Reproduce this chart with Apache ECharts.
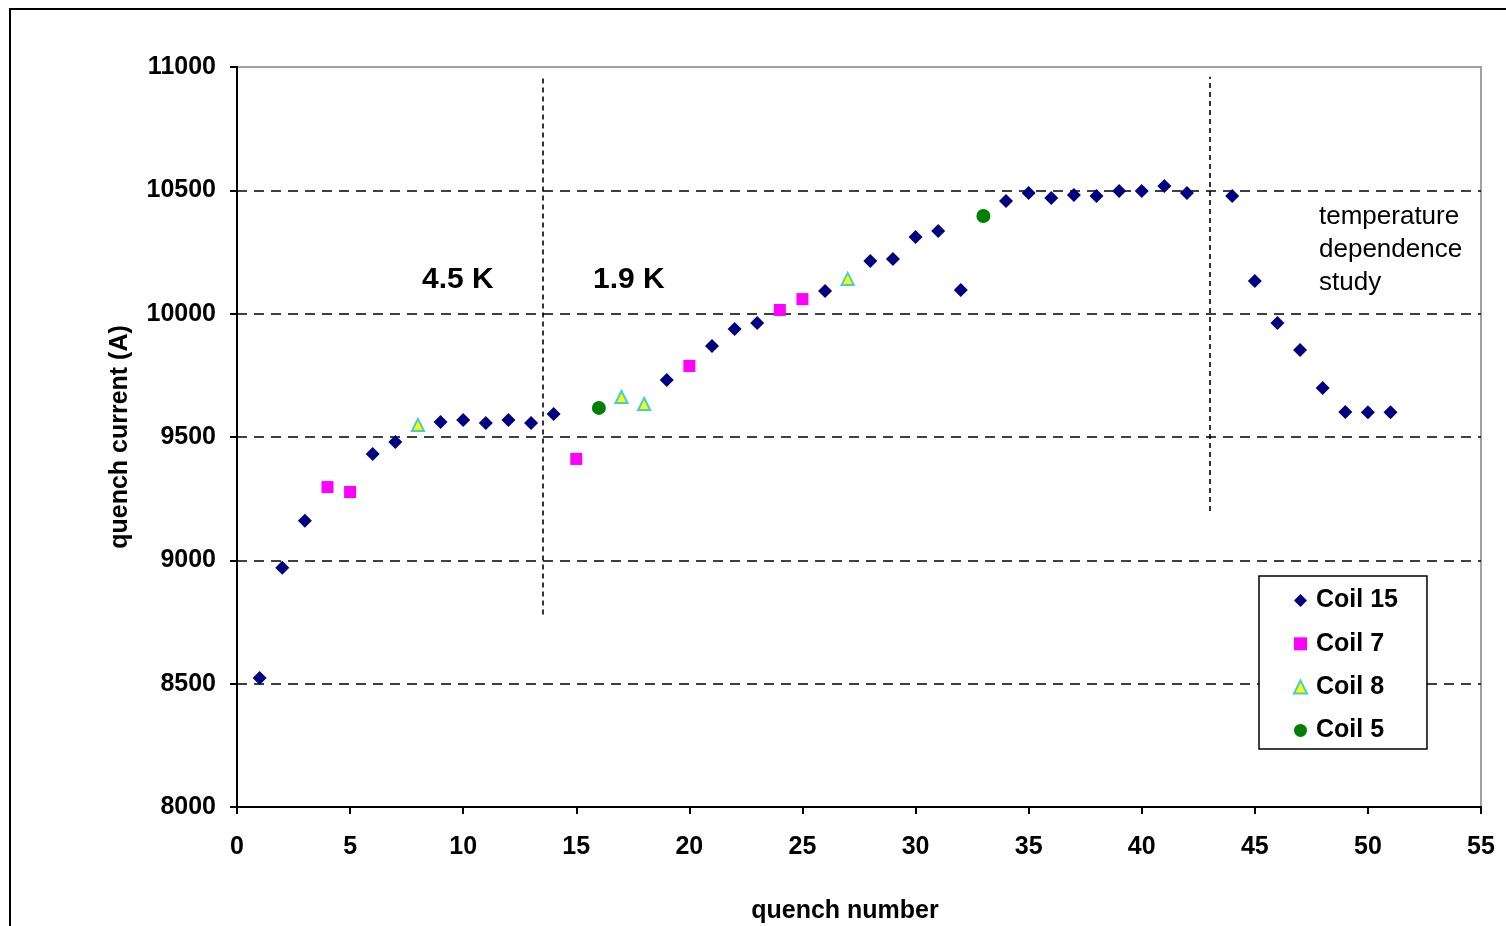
<!DOCTYPE html>
<html>
<head>
<meta charset="utf-8">
<script src="https://cdn.jsdelivr.net/npm/echarts@6/dist/echarts.min.js"></script>
<style>html,body{margin:0;padding:0;background:#fff;}#c{width:1506px;height:926px;}</style>
</head>
<body>
<div id="c"></div>
<script>
// ---- data ----
const coil15X = [1,2,3,6,7,9,10,11,12,13,14,19,21,22,23,26,28,29,30,31,32,34,35,36,37,38,39,40,41,42,44,45,46,47,48,49,50,51];
const coil15Y = [8523,8970,9160,9431,9480,9561,9569,9557,9569,9557,9593,9731,9869,9938,9962,10092,10214,10222,10311,10335,10096,10457,10489,10469,10481,10477,10497,10497,10518,10489,10477,10132,9962,9853,9699,9601,9600,9600];
const coil7X = [4,5,15,20,24,25];
const coil7Y = [9297,9277,9411,9788,10015,10059];
const coil8X = [8,17,18,27];
const coil8Y = [9549,9662,9634,10141];
const coil5X = [16,33];
const coil5Y = [9618,10396];
const seriesNames = ['Coil 15','Coil 7','Coil 8','Coil 5'];
const xTicks = {min:0, max:55, interval:5};
const yTicks = {min:8000, max:11000, interval:500};
// vertical dashed separators: [x, yBottom, yTop]
const separators = [[13.5, 8780, 10960],[43, 9200, 10960]];
const regionLabels = ['4.5 K','1.9 K'];
const noteLines = ['temperature','dependence','study'];

function pairs(xs, ys){ return xs.map((x,i)=>[x, ys[i]]); }

const FONT = '"Liberation Sans", Arial, sans-serif';
const chart = echarts.init(document.getElementById('c'), null, {renderer:'canvas'});
const gridColors = ['rgba(0,0,0,0)','#000','#000','#000','#000','#000','rgba(0,0,0,0)'];

chart.setOption({
  backgroundColor:'#fff',
  animation:false,
  grid:{left:237, right:25, top:67, bottom:119, outerBoundsMode:'none', containLabel:false,
        show:true, borderColor:'#a0a0a0', borderWidth:2, backgroundColor:'#fff'},
  xAxis:{
    type:'value', min:xTicks.min, max:xTicks.max, interval:xTicks.interval,
    name:'quench number', nameLocation:'middle', nameGap:92,
    nameTextStyle:{fontFamily:FONT, fontWeight:'bold', fontSize:25, color:'#000', padding:[0,28,0,0]},
    axisLine:{show:true, onZero:false, lineStyle:{color:'#000', width:2}},
    axisTick:{show:true, inside:false, length:7, lineStyle:{color:'#000', width:2}},
    axisLabel:{fontFamily:FONT, fontWeight:'bold', fontSize:25, color:'#000', margin:28},
    splitLine:{show:false}
  },
  yAxis:{
    type:'value', min:yTicks.min, max:yTicks.max, interval:yTicks.interval,
    name:'quench current (A)', nameLocation:'middle', nameGap:104,
    nameTextStyle:{fontFamily:FONT, fontWeight:'bold', fontSize:25, color:'#000'},
    axisLine:{show:true, onZero:false, lineStyle:{color:'#000', width:2}},
    axisTick:{show:true, inside:false, length:7, lineStyle:{color:'#000', width:2}},
    axisLabel:{fontFamily:FONT, fontWeight:'bold', fontSize:25, color:'#000', margin:21,
      formatter:function(v){ return String(v); }},
    splitLine:{show:true, lineStyle:{color:gridColors, width:1.6, type:[10,7]}}
  },
  legend:{
    data:seriesNames, orient:'vertical', left:1259, top:576,
    padding:[12,29,6,34], itemGap:18.3, itemWidth:13, itemHeight:13,
    borderColor:'#000', borderWidth:1.5, backgroundColor:'#fff',
    textStyle:{fontFamily:FONT, fontWeight:'bold', fontSize:25, color:'#000', padding:[0,0,0,4]},
    selectedMode:false
  },
  graphic:[
    {type:'polyline', shape:{points:[[10,926],[10,9],[1506,9]]}, style:{stroke:'#000', lineWidth:2, fill:null}, z:100},
    {type:'text', left:422, top:265, style:{text:regionLabels[0], font:'bold 30px '+FONT, fill:'#000'}},
    {type:'text', left:593, top:265, style:{text:regionLabels[1], font:'bold 30px '+FONT, fill:'#000'}},
    {type:'text', left:1319, top:200, style:{text:noteLines.join('\n'), font:'26px '+FONT, lineHeight:33, fill:'#000'}}
  ],
  series:[
    {name:seriesNames[0], type:'scatter', symbol:'diamond', symbolSize:14, data:pairs(coil15X, coil15Y),
     itemStyle:{color:'#000080', opacity:1}, z:5,
     markLine:{silent:true, symbol:['none','none'], label:{show:false}, animation:false,
       lineStyle:{color:'#000', width:1.6, type:[5,4]},
       data:separators.map(s=>[{coord:[s[0], s[1]]},{coord:[s[0], s[2]]}])}},
    {name:seriesNames[1], type:'scatter', symbol:'rect', symbolSize:12, data:pairs(coil7X, coil7Y),
     itemStyle:{color:'#ff00ff', opacity:1}, z:5},
    {name:seriesNames[2], type:'scatter', symbol:'triangle', symbolSize:12, data:pairs(coil8X, coil8Y),
     itemStyle:{color:'#ffff00', borderColor:'#40d0d0', borderWidth:2, opacity:1}, z:5},
    {name:seriesNames[3], type:'scatter', symbol:'circle', symbolSize:14, data:pairs(coil5X, coil5Y),
     itemStyle:{color:'#008000', opacity:1}, z:5}
  ]
});
</script>
</body>
</html>
